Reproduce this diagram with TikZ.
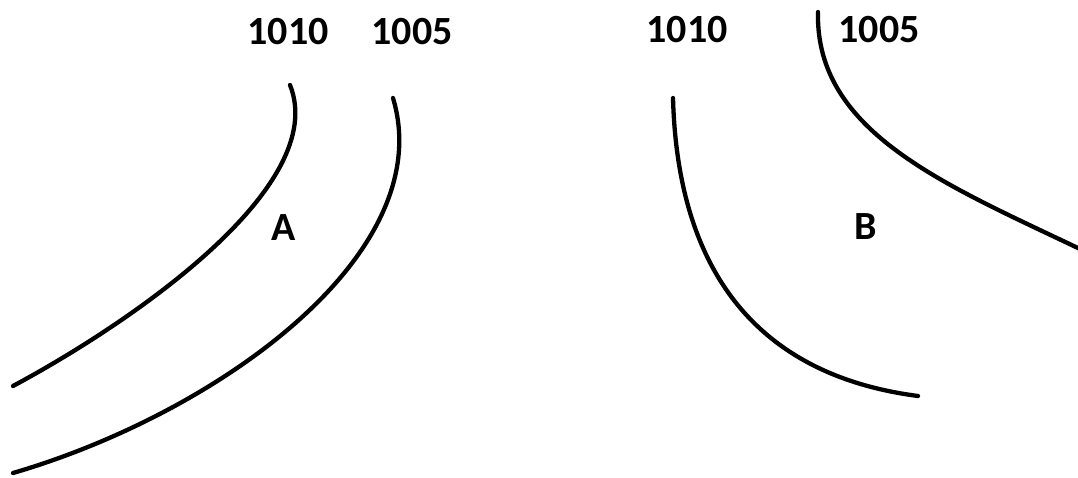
\documentclass[tikz,border=0pt]{standalone}
\usepackage{fontspec}
\setmainfont{Carlito}
\begin{document}
\begin{tikzpicture}[x=1pt,y=-1pt,
  curve/.style={line width=4.3pt, line cap=round, black},
  lbl/.style={font=\bfseries\fontsize{40}{40}\selectfont, inner sep=0pt, anchor=center}]
\useasboundingbox[fill=white] (0,0) rectangle (1078,477);
% labels
\node[lbl] (l1010a) at (288,32) {1010};
\node[lbl] (l1005a) at (412,32) {1005};
\node[lbl] (l1010b) at (687,30) {1010};
\node[lbl] (l1005b) at (879,30) {1005};
\node[lbl] (lA) at (284,228) {A};
\node[lbl] (lB) at (866,227) {B};
% curves
\coordinate (c1a) at (290,85);
\coordinate (c1b) at (13,386);
\draw[curve] (c1a) .. controls (330,185) and (136,320) .. (c1b);
\coordinate (c2a) at (393,98);
\coordinate (c2b) at (13,473);
\draw[curve] (c2a) .. controls (439.5,253) and (219,412.8) .. (c2b);
\coordinate (c3a) at (673,98);
\coordinate (c3b) at (918,396);
\draw[curve] (c3a) .. controls (678,283) and (768,376.5) .. (c3b);
\coordinate (c4a) at (818,12);
\coordinate (c4b) at (1080,249);
\draw[curve] (c4a) .. controls (815,132) and (945,184.5) .. (c4b);
\end{tikzpicture}
\end{document}
